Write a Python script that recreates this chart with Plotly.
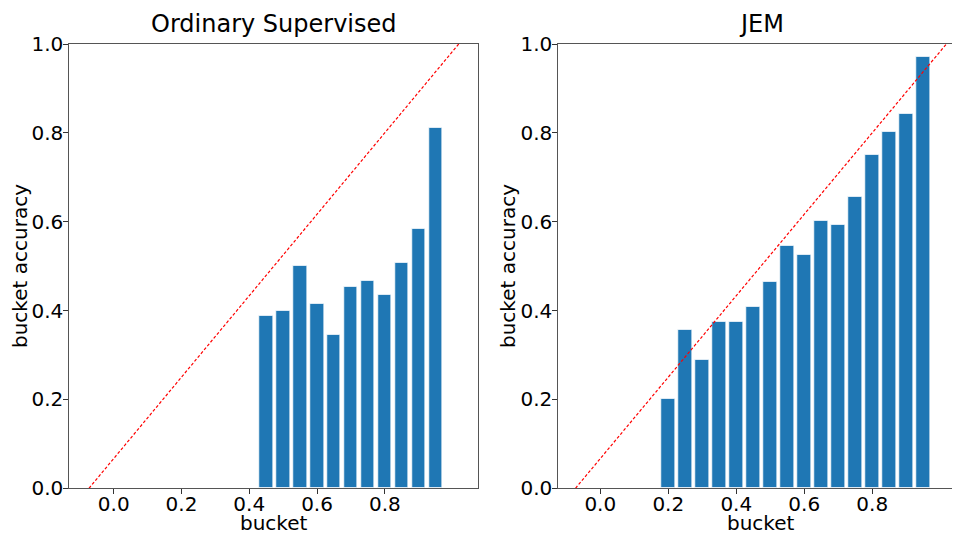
import plotly.graph_objects as go

# Data
sup_buckets = [0.45, 0.50, 0.55, 0.60, 0.65, 0.70, 0.75, 0.80, 0.85, 0.90, 0.95]
sup_acc = [0.388, 0.400, 0.500, 0.415, 0.345, 0.452, 0.466, 0.435, 0.507, 0.584, 0.811]

jem_buckets = [0.20, 0.25, 0.30, 0.35, 0.40, 0.45, 0.50, 0.55, 0.60, 0.65, 0.70, 0.75, 0.80, 0.85, 0.90, 0.95]
jem_acc = [0.200, 0.356, 0.288, 0.375, 0.375, 0.409, 0.464, 0.546, 0.526, 0.601, 0.592, 0.656, 0.750, 0.801, 0.842, 0.971]

diag_x = [-0.073, 1.018]
diag_y = [0.0, 1.0]

x_ticks = [0.0, 0.2, 0.4, 0.6, 0.8]
y_ticks = [0.0, 0.2, 0.4, 0.6, 0.8, 1.0]
titles = ["Ordinary Supervised", "JEM"]

# page body has an 8px margin; the figure is sized to fill the rest of the window
OFF = 8
W, H = 960 - OFF, 537 - OFF
FONT = "DejaVu Sans"
BAR = "#1f77b4"


def px_x(p):
    return (p - OFF) / W


def px_y(p):
    return 1 - (p - OFF) / H


fig = go.Figure()

for i, (bx, by) in enumerate([(sup_buckets, sup_acc), (jem_buckets, jem_acc)]):
    xa = "x" if i == 0 else "x2"
    ya = "y" if i == 0 else "y2"
    fig.add_trace(go.Bar(x=bx, y=by, width=0.04, xaxis=xa, yaxis=ya,
                         marker=dict(color=BAR, line=dict(color="rgba(255,255,255,0.7)", width=1)),
                         showlegend=False, hoverinfo="skip"))
    fig.add_trace(go.Scatter(x=diag_x, y=diag_y, mode="lines", xaxis=xa, yaxis=ya,
                             line=dict(color="red", width=1.2, dash="3px,2px"),
                             showlegend=False, hoverinfo="skip"))

ydom = [px_y(488.3), px_y(44)]
axis_common = dict(showgrid=False, zeroline=False, showline=True, linecolor="#555555", linewidth=1,
                   ticks="outside", ticklen=5, tickcolor="#333333", automargin=False,
                   tickfont=dict(family=FONT, size=20, color="black"))

fig.update_layout(
    width=W, height=H, margin=dict(l=0, r=0, t=0, b=0, autoexpand=False),
    plot_bgcolor="white", paper_bgcolor="white", bargap=0,
    font=dict(family=FONT, color="black"),
    xaxis=dict(domain=[px_x(69.3), px_x(477.7)], range=[-0.131, 1.074], tickvals=x_ticks,
               ticktext=[f"{v:.1f}" for v in x_ticks], mirror=True, anchor="y",
               ticklabelstandoff=-7, **axis_common),
    yaxis=dict(domain=ydom, range=[0, 1], tickvals=y_ticks,
               ticktext=[f"{v:.1f}" for v in y_ticks], mirror=True, anchor="x",
               ticklabelstandoff=-4, **axis_common),
    xaxis2=dict(domain=[px_x(558.3), 1.0], range=[-0.1235, 1.058], tickvals=x_ticks,
                ticktext=[f"{v:.1f}" for v in x_ticks], mirror=True, anchor="y2",
                ticklabelstandoff=-7, **axis_common),
    yaxis2=dict(domain=ydom, range=[0, 1], tickvals=y_ticks,
                ticktext=[f"{v:.1f}" for v in y_ticks], mirror=False, anchor="x2",
                ticklabelstandoff=-4, **axis_common),
)

annotations = []
for cx, t in zip([273.5, 761.0], titles):
    annotations.append(dict(text=t, x=px_x(cx), y=1.0, xref="paper", yref="paper",
                            xanchor="center", yanchor="top", showarrow=False,
                            font=dict(family=FONT, size=24, color="black")))
for cx in [273.5, 761.0]:
    annotations.append(dict(text="bucket", x=px_x(cx), y=0.0, xref="paper", yref="paper",
                            xanchor="center", yanchor="bottom", showarrow=False,
                            font=dict(family=FONT, size=20, color="black")))
for cx in [20.0, 508.0]:
    annotations.append(dict(text="bucket accuracy", x=px_x(cx), y=px_y(266), xref="paper", yref="paper",
                            xanchor="center", yanchor="middle", showarrow=False, textangle=-90,
                            font=dict(family=FONT, size=20, color="black")))
fig.update_layout(annotations=annotations)

fig.write_html("out.html")
